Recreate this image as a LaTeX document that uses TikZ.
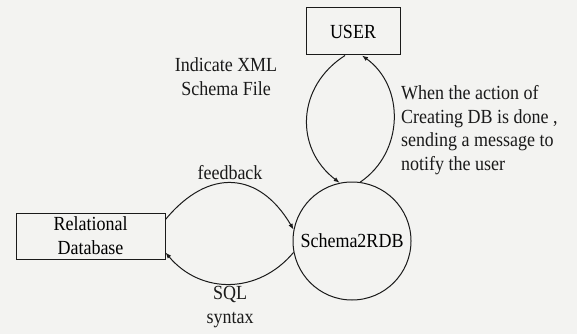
\documentclass[tikz,border=0pt]{standalone}
\usepackage{fontspec}
\setmainfont[FakeStretch=0.9]{Liberation Serif}
\usepackage{tikz}
\usetikzlibrary{arrows.meta, positioning}
\definecolor{paper}{HTML}{F3F3F1}
\definecolor{ink}{HTML}{1A1A1A}
\tikzset{
  box/.style={draw=ink, line width=1pt, minimum width=94pt, minimum height=47pt, inner sep=2pt, align=center},
  proc/.style={draw=ink, circle, line width=1pt, minimum size=118pt, inner sep=0pt},
  flow/.style={draw=ink, line width=1pt, -{Latex[length=6pt,width=4.5pt]}},
  lbl/.style={inner sep=0pt, text=ink}
}
\begin{document}
\begin{tikzpicture}[x=1pt, y=-1pt, font=\fontsize{20}{23.7}\selectfont]
\fill[paper] (0,0) rectangle (577,334);
\useasboundingbox (0,0) rectangle (577,334);
% entities
\node[box] (user) at (353,31.5) {USER};
\node[box, minimum width=149pt, minimum height=46pt] (rdb) at (90.5,236) {Relational\\Database};
\node[proc] (schema) at (352,241) {Schema2RDB};
% user <-> schema2rdb
\draw[flow] ([xshift=-8pt]user.south) to[bend right=55, looseness=1.15] (schema.102);
\draw[flow] (schema.82) to[bend right=55, looseness=1.07] ([xshift=9pt]user.south);
% schema2rdb <-> database
\draw[flow] ([yshift=-7pt]rdb.north east) to[bend left=55, looseness=1.35] (schema.169);
\draw[flow] (schema.191) to[bend left=50, looseness=1.1] ([yshift=7pt]rdb.south east);
% labels
\node[lbl, align=center] (xsd) at (226,77) {Indicate XML\\Schema File};
\node[lbl, align=left, anchor=west] (notify) at (401,130) {When the action of\\Creating DB is done ,\\sending a message to\\notify the user};
\node[lbl] (fb) at (230,173) {feedback};
\node[lbl, align=center] (sql) at (230,307) {SQL\\syntax};
\end{tikzpicture}
\end{document}
